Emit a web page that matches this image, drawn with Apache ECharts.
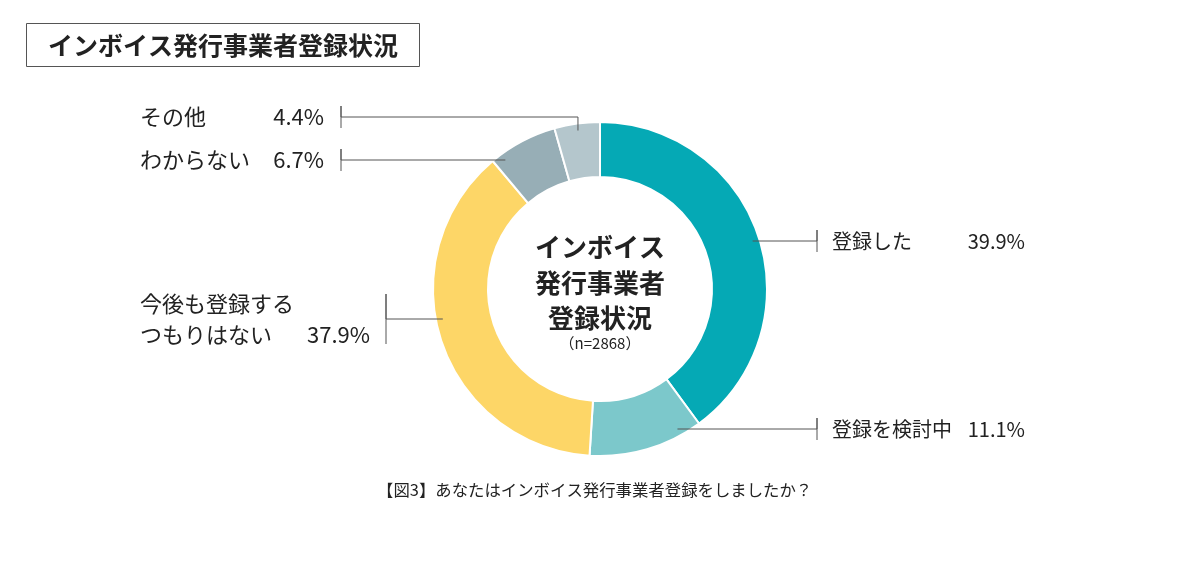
<!DOCTYPE html>
<html>
<head>
<meta charset="utf-8">
<script src="https://cdn.jsdelivr.net/npm/echarts@6/dist/echarts.min.js"></script>
<style>
  html, body { margin: 0; padding: 0; background: #fff; }
  #chart { width: 1200px; height: 576px; }
</style>
</head>
<body>
<div id="chart"></div>
<script>
// インボイス発行事業者登録状況 (n=2868)
const categories = ['登録した', '登録を検討中', '今後も登録する\nつもりはない', 'わからない', 'その他']
const shares = [39.9, 11.1, 37.9, 6.7, 4.4]
const colors = ['#05a9b5', '#7cc8cb', '#fdd667', '#97aeb6', '#b4c6cc']

// ドーナツの位置
const CX = 600
const CY = 289
const RADIUS = [112, 167]
const LR = 160 // 引き出し線の始点の半径

// ラベル配置 (side, ラベル左端x, 中心y, 目盛りx, 目盛り半分の高さ, 名前幅, 数値幅)
const labelPos = [
  { side: 1, x: 832, y: 241, tick: 817, half: 11, nw: 133, vw: 60, size: 20 },
  { side: 1, x: 832, y: 429, tick: 817, half: 11, nw: 133, vw: 60, size: 20 },
  { side: -1, x: 140, y: 319, tick: 386, half: 25, nw: 160, vw: 70, size: 22 },
  { side: -1, x: 140, y: 160, tick: 341, half: 11, nw: 125, vw: 59, size: 22 },
  { side: -1, x: 140, y: 117, tick: 341, half: 11, nw: 125, vw: 59, size: 22 }
]

const FONT = '"Noto Sans CJK JP", "Noto Sans", sans-serif'

// 各スライスの中央角度 (12時から時計回り, 度)
const total = shares.reduce((a, b) => a + b, 0)
const midAngles = []
let acc = 0
shares.forEach(v => {
  midAngles.push((acc + v / 2) / total * 360)
  acc += v
})

const ringData = categories.map((name, i) => ({
  name,
  value: shares[i],
  itemStyle: { color: colors[i] }
}))

// ラベル用 (透明なリングを上に重ねて引き出し線を前面に出す)
const labelData = categories.map((name, i) => {
  const p = labelPos[i]
  return {
    name,
    value: shares[i],
    label: {
      rich: {
        n: { fontSize: p.size, width: p.nw, align: 'left', color: '#222', fontFamily: FONT, lineHeight: 31 },
        v: { fontSize: p.size, width: p.vw, align: 'right', color: '#222', fontFamily: FONT, lineHeight: 31 }
      }
    }
  }
})

/**
 * ラベルと引き出し線の配置
 */
const layoutLabel = params => {
  const i = params.dataIndex
  const p = labelPos[i]
  const dy = p.y - CY
  let pts
  if (Math.abs(dy) < LR) {
    const sx = CX + p.side * Math.sqrt(LR * LR - dy * dy)
    pts = [[sx, p.y]]
  } else {
    const a = midAngles[i] * Math.PI / 180
    const mx = CX + LR * Math.sin(a)
    const my = CY - LR * Math.cos(a)
    pts = [[mx, my], [mx, p.y]]
  }
  pts.push([p.tick, p.y], [p.tick, p.y - p.half], [p.tick, p.y + p.half])
  return {
    x: p.x,
    y: p.y,
    align: 'left',
    verticalAlign: 'middle',
    labelLinePoints: pts
  }
}

const chart = echarts.init(document.getElementById('chart'))
chart.setOption({
  animation: false,
  backgroundColor: '#fff',
  title: {
    text: 'インボイス発行事業者登録状況',
    left: 26,
    top: 23,
    padding: [8, 22],
    borderWidth: 1,
    borderColor: '#555',
    textStyle: { fontFamily: FONT, fontSize: 25, fontWeight: 'bold', color: '#222', lineHeight: 28 }
  },
  graphic: [
    {
      type: 'text',
      x: CX,
      y: 283,
      style: {
        text: 'インボイス\n発行事業者\n登録状況',
        font: 'bold 26px ' + FONT,
        lineHeight: 35.5,
        fill: '#222',
        textAlign: 'center',
        textVerticalAlign: 'middle'
      }
    },
    {
      type: 'text',
      x: CX,
      y: 343,
      style: {
        text: '（n=2868）',
        font: '15px ' + FONT,
        fill: '#222',
        textAlign: 'center',
        textVerticalAlign: 'middle'
      }
    },
    {
      type: 'text',
      x: 377,
      y: 490,
      style: {
        text: '【図3】あなたはインボイス発行事業者登録をしましたか？',
        font: '16.4px ' + FONT,
        fill: '#222',
        textAlign: 'left',
        textVerticalAlign: 'middle'
      }
    }
  ],
  series: [
    {
      type: 'pie',
      z: 2,
      center: [CX, CY],
      radius: RADIUS,
      startAngle: 90,
      clockwise: true,
      itemStyle: { borderColor: '#fff', borderWidth: 2 },
      label: { show: false },
      labelLine: { show: false },
      emphasis: { disabled: true },
      data: ringData
    },
    {
      type: 'pie',
      z: 3,
      silent: true,
      center: [CX, CY],
      radius: RADIUS,
      startAngle: 90,
      clockwise: true,
      avoidLabelOverlap: false,
      itemStyle: { color: 'rgba(0,0,0,0)', borderWidth: 0 },
      label: {
        show: true,
        position: 'outside',
        formatter (params) {
          const lines = params.name.split('\n')
          const last = lines.pop()
          const head = lines.map(l => '{n|' + l + '}').join('\n')
          return (head ? head + '\n' : '') + '{n|' + last + '}{v|' + params.value + '%}'
        }
      },
      labelLine: {
        show: true,
        smooth: false,
        lineStyle: { color: '#555', width: 1 }
      },
      labelLayout: layoutLabel,
      emphasis: { disabled: true },
      data: labelData
    }
  ]
})
</script>
</body>
</html>
